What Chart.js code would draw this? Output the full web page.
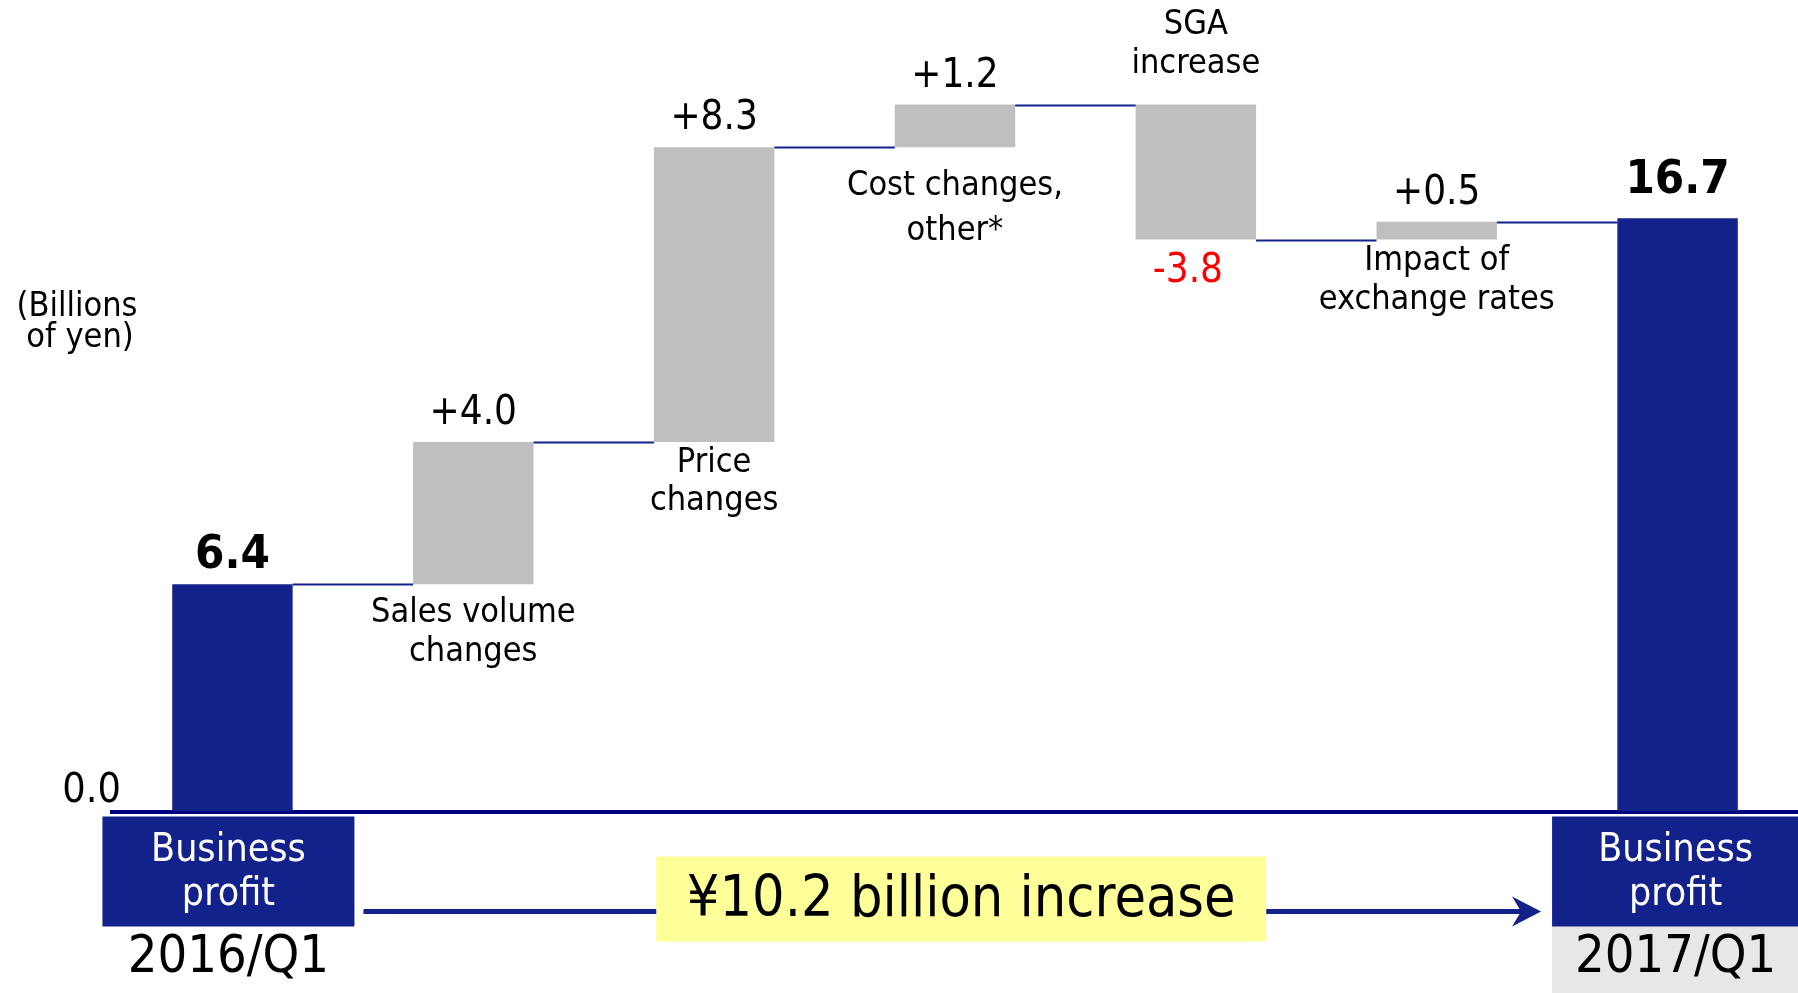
<!DOCTYPE html>
<html>
<head>
<meta charset="utf-8">
<script src="https://cdn.jsdelivr.net/npm/chart.js@4.4.0/dist/chart.umd.min.js"></script>
<style>
  html, body { margin: 0; padding: 0; background: #fff; }
  #wrap { width: 1798px; height: 993px; position: relative; }
</style>
</head>
<body>
<div id="wrap"><canvas id="bridgeChart"></canvas></div>
<script>
// business profit bridge, billions of yen
var categories = ['2016/Q1', 'Sales volume changes', 'Price changes', 'Cost changes, other*',
    'SGA increase', 'Impact of exchange rates', '2017/Q1'];
var startValue = 6.4;
var changes = [4.0, 8.3, 1.2, -3.8, 0.5];
var endValue = 16.7;

var valueLabels = ['6.4', '+4.0', '+8.3', '+1.2', '-3.8', '+0.5', '16.7'];
var stepLabels = [['Sales volume', 'changes'], ['Price', 'changes'], ['Cost changes,', 'other*'],
    ['SGA', 'increase'], ['Impact of', 'exchange rates']];
var periodLabels = ['2016/Q1', '2017/Q1'];
var totalLabel = ['Business', 'profit'];
var increaseLabel = '\u00a510.2 billion increase';
var unitLabel = ['(Billions', 'of yen)'];
var zeroLabel = '0.0';

var FONT = "'DejaVu Sans Condensed', 'DejaVu Sans', sans-serif";
var NAVY = '#13218A';
var GRAY = '#BFBFBF';

// running total -> floating bars
var levels = [startValue];
changes.forEach(function (c) {
    levels.push(+(levels[levels.length - 1] + c).toFixed(1));
});
var barData = [[0, startValue]];
for (var i = 0; i < changes.length; i++) {
    barData.push([levels[i], levels[i + 1]]);
}
barData.push([0, endValue]);

var barColors = barData.map(function (d, i) {
    return (i === 0 || i === barData.length - 1) ? NAVY : GRAY;
});

function font(size, bold) {
    return (bold ? 'bold ' : '') + size + 'px ' + FONT;
}

// where each step caption sits: below the bar bottom or above the bar top
var stepLayout = [
    { side: 'bottom', dy: 29.5, gap: 39 },
    { side: 'bottom', dy: 21.5, gap: 38 },
    { side: 'bottom', dy: 39, gap: 45 },
    { side: 'top', dy: -79.5, gap: 39 },
    { side: 'bottom', dy: 22, gap: 39 }
];

var extras = {
    id: 'extras',
    afterDatasetsDraw: function (chart) {
        var ctx = chart.ctx;
        var y = chart.scales.y;
        var bars = chart.getDatasetMeta(0).data;
        var y0 = y.getPixelForValue(0);
        ctx.save();

        // connectors between bars
        ctx.strokeStyle = NAVY;
        ctx.lineWidth = 2;
        for (var i = 0; i < bars.length - 1; i++) {
            var ly = Math.round(y.getPixelForValue(levels[i])) + 0.5;
            ctx.beginPath();
            ctx.moveTo(bars[i].x + bars[i].width / 2, ly);
            ctx.lineTo(bars[i + 1].x - bars[i + 1].width / 2, ly);
            ctx.stroke();
        }

        ctx.textAlign = 'center';
        ctx.textBaseline = 'alphabetic';

        // value labels
        bars.forEach(function (b, i) {
            var top = Math.min(b.y, b.base);
            var bottom = Math.max(b.y, b.base);
            if (i === 0 || i === bars.length - 1) {
                ctx.font = font(47, true);
                ctx.fillStyle = '#000';
                ctx.fillText(valueLabels[i], b.x, top - (i === 0 ? 16 : 25));
            } else if (changes[i - 1] < 0) {
                ctx.font = font(40);
                ctx.fillStyle = '#FF0000';
                ctx.fillText(valueLabels[i], b.x - 8, bottom + 42);
            } else {
                ctx.font = font(40);
                ctx.fillStyle = '#000';
                ctx.fillText(valueLabels[i], b.x, top - 18);
            }
        });

        // step captions
        ctx.font = font(34);
        ctx.fillStyle = '#000';
        ctx.textBaseline = 'middle';
        stepLabels.forEach(function (lines, k) {
            var b = bars[k + 1];
            var lay = stepLayout[k];
            var ref = lay.side === 'bottom' ? Math.max(b.y, b.base) : Math.min(b.y, b.base);
            lines.forEach(function (t, j) {
                ctx.fillText(t, b.x, ref + lay.dy + j * lay.gap);
            });
        });

        // unit note
        ctx.font = font(34);
        ctx.fillText(unitLabel[0], 77, 307.5);
        ctx.fillText(unitLabel[1], 80, 338.5);

        // zero tick
        ctx.font = font(41);
        ctx.textAlign = 'right';
        ctx.textBaseline = 'alphabetic';
        ctx.fillText(zeroLabel, chart.chartArea.left + 9, y0 - 10);

        // bottom total boxes
        var boxes = [
            { cx: bars[0].x - 4, w: 252 },
            { cx: bars[bars.length - 1].x - 2, w: 247 }
        ];
        var boxTop = y0 + 5, boxH = 110;
        ctx.fillStyle = '#E7E7E7';
        ctx.fillRect(boxes[1].cx - boxes[1].w / 2, boxTop + boxH, boxes[1].w, chart.height - boxTop - boxH);
        boxes.forEach(function (bx, i) {
            ctx.fillStyle = NAVY;
            ctx.fillRect(bx.cx - bx.w / 2, boxTop, bx.w, boxH);
            ctx.fillStyle = '#fff';
            ctx.font = font(39);
            ctx.textAlign = 'center';
            ctx.textBaseline = 'middle';
            ctx.fillText(totalLabel[0], bx.cx, boxTop + 34);
            ctx.fillText(totalLabel[1], bx.cx, boxTop + 78);
            ctx.fillStyle = '#000';
            ctx.font = font(52);
            ctx.fillText(periodLabels[i], bx.cx, boxTop + boxH + 32);
        });

        // arrow
        var ax1 = boxes[0].cx + boxes[0].w / 2 + 9;
        var ax2 = boxes[1].cx - boxes[1].w / 2 - 11;
        var ay = y0 + 100;
        ctx.strokeStyle = NAVY;
        ctx.lineWidth = 5;
        ctx.beginPath();
        ctx.moveTo(ax1, ay);
        ctx.lineTo(ax2 - 12, ay);
        ctx.stroke();
        ctx.fillStyle = NAVY;
        ctx.beginPath();
        ctx.moveTo(ax2, ay);
        ctx.lineTo(ax2 - 29, ay - 15);
        ctx.lineTo(ax2 - 20, ay);
        ctx.lineTo(ax2 - 29, ay + 15);
        ctx.closePath();
        ctx.fill();

        // increase callout
        var cx = (ax1 + ax2) / 2 + 9;
        ctx.fillStyle = '#FFFF99';
        ctx.fillRect(cx - 305, y0 + 45, 610, 85);
        ctx.fillStyle = '#000';
        ctx.font = font(57);
        ctx.textAlign = 'center';
        ctx.textBaseline = 'middle';
        ctx.fillText(increaseLabel, cx, y0 + 90);

        ctx.restore();
    }
};

var ctx = document.getElementById('bridgeChart').getContext('2d');
var chart = new Chart(ctx, {
    type: 'bar',
    data: {
        labels: categories,
        datasets: [{
            data: barData,
            backgroundColor: barColors,
            borderWidth: 0,
            categoryPercentage: 1,
            barPercentage: 0.5
        }]
    },
    options: {
        responsive: true,
        maintainAspectRatio: false,
        animation: false,
        layout: { padding: { top: 30, bottom: 173.5, left: 112, right: 0 } },
        plugins: {
            legend: { display: false },
            tooltip: { enabled: false },
            title: { display: false }
        },
        scales: {
            x: {
                z: 1,
                grid: { display: false },
                ticks: { display: false },
                border: { display: true, color: '#000080', width: 4 }
            },
            y: {
                display: false,
                min: 0,
                max: 22
            }
        }
    },
    plugins: [extras]
});
</script>
</body>
</html>
